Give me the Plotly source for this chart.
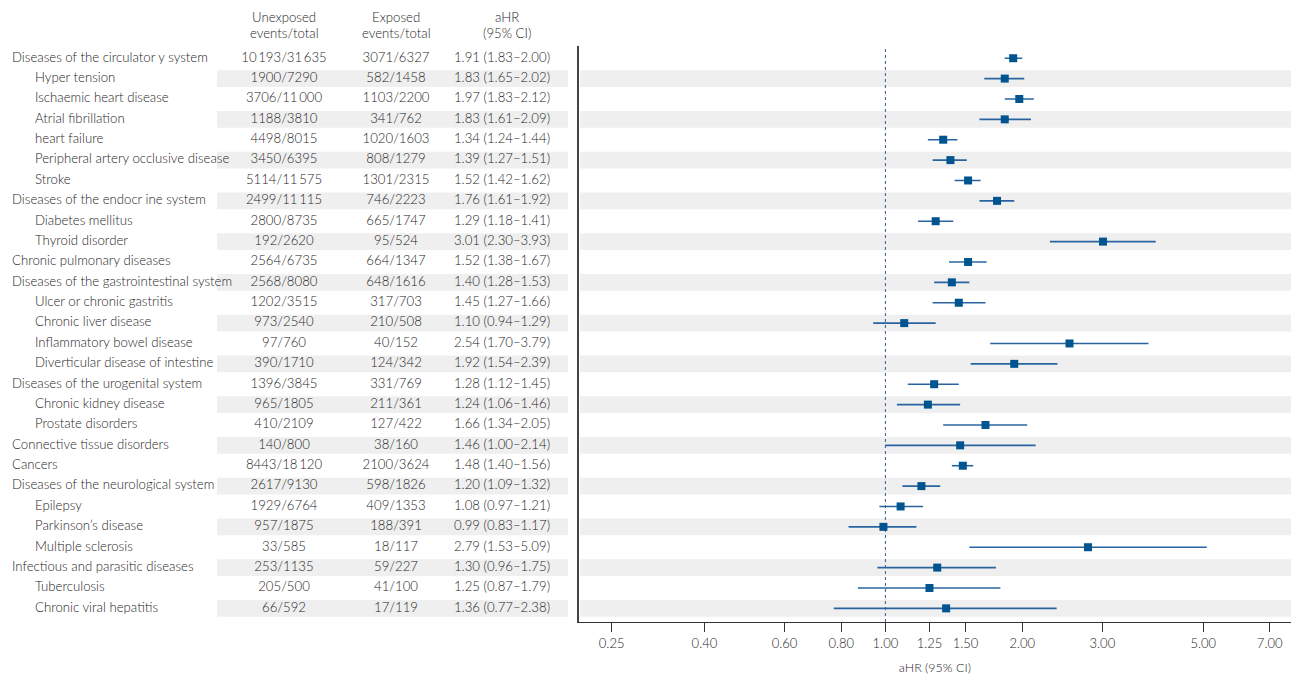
import plotly.graph_objects as go

# ---------------- data ----------------
labels = [
    "Diseases of the circulator y system", "Hyper tension", "Ischaemic heart disease",
    "Atrial fibrillation", "heart failure", "Peripheral artery occlusive disease", "Stroke",
    "Diseases of the endocr ine system", "Diabetes mellitus", "Thyroid disorder",
    "Chronic pulmonary diseases", "Diseases of the gastrointestinal system",
    "Ulcer or chronic gastritis", "Chronic liver disease", "Inflammatory bowel disease",
    "Diverticular disease of intestine", "Diseases of the urogenital system",
    "Chronic kidney disease", "Prostate disorders", "Connective tissue disorders",
    "Cancers", "Diseases of the neurological system", "Epilepsy", "Parkinson’s disease",
    "Multiple sclerosis", "Infectious and parasitic diseases", "Tuberculosis",
    "Chronic viral hepatitis",
]
is_main = [1, 0, 0, 0, 0, 0, 0, 1, 0, 0, 1, 1, 0, 0, 0, 0, 1, 0, 0, 1, 1, 1, 0, 0, 0, 1, 0, 0]

unexp_events = [10193, 1900, 3706, 1188, 4498, 3450, 5114, 2499, 2800, 192, 2564, 2568, 1202, 973,
                97, 390, 1396, 965, 410, 140, 8443, 2617, 1929, 957, 33, 253, 205, 66]
unexp_total = [31635, 7290, 11000, 3810, 8015, 6395, 11575, 11115, 8735, 2620, 6735, 8080, 3515, 2540,
               760, 1710, 3845, 1805, 2109, 800, 18120, 9130, 6764, 1875, 585, 1135, 500, 592]
exp_events = [3071, 582, 1103, 341, 1020, 808, 1301, 746, 665, 95, 664, 648, 317, 210,
              40, 124, 331, 211, 127, 38, 2100, 598, 409, 188, 18, 59, 41, 17]
exp_total = [6327, 1458, 2200, 762, 1603, 1279, 2315, 2223, 1747, 524, 1347, 1616, 703, 508,
             152, 342, 769, 361, 422, 160, 3624, 1826, 1353, 391, 117, 227, 100, 119]
hr = [1.91, 1.83, 1.97, 1.83, 1.34, 1.39, 1.52, 1.76, 1.29, 3.01, 1.52, 1.40, 1.45, 1.10,
      2.54, 1.92, 1.28, 1.24, 1.66, 1.46, 1.48, 1.20, 1.08, 0.99, 2.79, 1.30, 1.25, 1.36]
ci_lo = [1.83, 1.65, 1.83, 1.61, 1.24, 1.27, 1.42, 1.61, 1.18, 2.30, 1.38, 1.28, 1.27, 0.94,
         1.70, 1.54, 1.12, 1.06, 1.34, 1.00, 1.40, 1.09, 0.97, 0.83, 1.53, 0.96, 0.87, 0.77]
ci_hi = [2.00, 2.02, 2.12, 2.09, 1.44, 1.51, 1.62, 1.92, 1.41, 3.93, 1.67, 1.53, 1.66, 1.29,
         3.79, 2.39, 1.45, 1.46, 2.05, 2.14, 1.56, 1.32, 1.21, 1.17, 5.09, 1.75, 1.79, 2.38]

tick_vals = [0.25, 0.40, 0.60, 0.80, 1.00, 1.25, 1.50, 2.00, 3.00, 5.00, 7.00]
tick_text = ["0.25", "0.40", "0.60", "0.80", "1.00", "1.25", "1.50", "2.00", "3.00", "5.00", "7.00"]

col_headers = [("Unexposed", "events/total"), ("Exposed", "events/total"), ("aHR", "(95% CI)")]

# ---------------- helpers ----------------
def fmt_n(n):
    if n >= 10000:
        return "{:,}".format(n).replace(",", "\u2009")
    return str(n)

rows = list(range(len(labels)))
unexp_txt = [f"{fmt_n(a)}/{fmt_n(b)}" for a, b in zip(unexp_events, unexp_total)]
exp_txt = [f"{fmt_n(a)}/{fmt_n(b)}" for a, b in zip(exp_events, exp_total)]
ahr_txt = [f"{h:.2f} ({l:.2f}\u2013{u:.2f})" for h, l, u in zip(hr, ci_lo, ci_hi)]

W, H = 1291, 675
AX_LEFT = 578.7
TOP, BOTTOM = 45.7, 622.0
FONT = "Lato"
FW = 300
FS = 13.2
TXT_COL = "#262626"
BAND = "#efefef"
BLUE = "#00548f"
LINE_BLUE = "#2a64a0"

def tf(size=FS):
    return dict(family=FONT, size=size, color=TXT_COL, weight=FW)

fig = go.Figure()

# table text columns (on x2, pixel-like units)
main_rows = [i for i in rows if is_main[i]]
sub_rows = [i for i in rows if not is_main[i]]
fig.add_trace(go.Scatter(x=[12] * len(main_rows), y=main_rows, text=[labels[i] for i in main_rows],
                         mode="text", textposition="middle right", xaxis="x2", yaxis="y",
                         textfont=tf(), hoverinfo="skip", showlegend=False, cliponaxis=False))
fig.add_trace(go.Scatter(x=[35] * len(sub_rows), y=sub_rows, text=[labels[i] for i in sub_rows],
                         mode="text", textposition="middle right", xaxis="x2", yaxis="y",
                         textfont=tf(), hoverinfo="skip", showlegend=False, cliponaxis=False))
for xc, col in [(284, unexp_txt), (396, exp_txt), (502, ahr_txt)]:
    fig.add_trace(go.Scatter(x=[xc] * len(rows), y=rows, text=col, mode="text",
                             textposition="middle center", xaxis="x2", yaxis="y",
                             textfont=tf(), hoverinfo="skip", showlegend=False, cliponaxis=False))

# forest points
fig.add_trace(go.Scatter(
    x=hr, y=rows, mode="markers", xaxis="x", yaxis="y",
    marker=dict(symbol="square", size=8, color=BLUE, line=dict(width=0)),
    error_x=dict(type="data", symmetric=False,
                 array=[u - h for u, h in zip(ci_hi, hr)],
                 arrayminus=[h - l for h, l in zip(hr, ci_lo)],
                 color=LINE_BLUE, thickness=1.6, width=0),
    showlegend=False, hoverinfo="skip", cliponaxis=False))

# header annotations (paper y computed from pixel rows)
ph = BOTTOM - TOP
for xc, (h1, h2) in zip([284, 396, 507], col_headers):
    for ypx, t in [(17, h1), (33, h2)]:
        fig.add_annotation(x=xc, y=(H - ypx - (H - BOTTOM)) / ph, xref="x2", yref="paper", text=t,
                           showarrow=False, font=tf(), xanchor="center", yanchor="middle")

# bands
for i in rows:
    if i % 2 == 1:
        fig.add_shape(type="rect", xref="x2", yref="y", x0=217, x1=568, y0=i - 0.41, y1=i + 0.41,
                      fillcolor=BAND, line=dict(width=0), layer="below")
        fig.add_shape(type="rect", xref="x domain", yref="y", x0=0.002, x1=1, y0=i - 0.41, y1=i + 0.41,
                      fillcolor=BAND, line=dict(width=0), layer="below")

# reference line at 1
fig.add_shape(type="line", xref="x", yref="y domain", x0=1, x1=1, y0=0, y1=1,
              line=dict(color="#2f5f96", width=1, dash="dot"), layer="below")

dom = AX_LEFT / W
fig.update_layout(
    width=W, height=H,
    margin=dict(l=0, r=0, t=TOP, b=H - BOTTOM),
    paper_bgcolor="white", plot_bgcolor="white",
    font=dict(family=FONT, size=12, color=TXT_COL),
    xaxis=dict(type="log", domain=[dom, 1], range=[-0.6745, 0.892],
               tickvals=tick_vals, ticktext=tick_text, ticks="outside", ticklen=9,
               tickwidth=1.3, tickcolor="#333", showline=True, linecolor="#333", linewidth=1.3,
               showgrid=False, zeroline=False, anchor="y",
               tickfont=tf(13),
               title=dict(text="aHR (95% CI)", font=tf(12.5), standoff=13)),
    xaxis2=dict(domain=[0, dom], range=[0, AX_LEFT], visible=False, anchor="y"),
    yaxis=dict(range=[27.67, -0.6], showline=True, linecolor="#444", linewidth=2,
               showgrid=False, zeroline=False, showticklabels=False, ticks="", anchor="x"),
)

fig.write_html("out.html", config={"displayModeBar": False},
               post_script="document.body.style.margin='0px';")
